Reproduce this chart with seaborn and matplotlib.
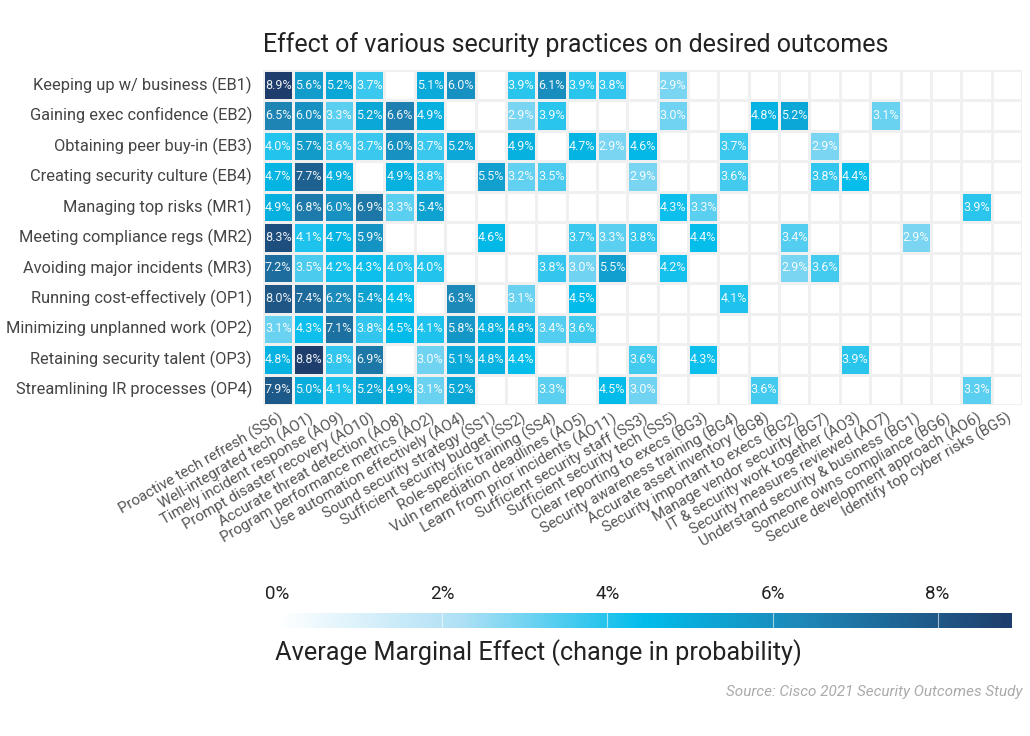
import numpy as np
import pandas as pd
import matplotlib
matplotlib.use("Agg")
import matplotlib.pyplot as plt
import seaborn as sns
from matplotlib.colors import LinearSegmentedColormap

outcomes = [
    "Keeping up w/ business (EB1)",
    "Gaining exec confidence (EB2)",
    "Obtaining peer buy-in (EB3)",
    "Creating security culture (EB4)",
    "Managing top risks (MR1)",
    "Meeting compliance regs (MR2)",
    "Avoiding major incidents (MR3)",
    "Running cost-effectively (OP1)",
    "Minimizing unplanned work (OP2)",
    "Retaining security talent (OP3)",
    "Streamlining IR processes (OP4)",
]

practices = [
    "Proactive tech refresh (SS6)",
    "Well-integrated tech (AO1)",
    "Timely incident response (AO9)",
    "Prompt disaster recovery (AO10)",
    "Accurate threat detection (AO8)",
    "Program performance metrics (AO2)",
    "Use automation effectively (AO4)",
    "Sound security strategy (SS1)",
    "Sufficient security budget (SS2)",
    "Role-specific training (SS4)",
    "Vuln remediation deadlines (AO5)",
    "Learn from prior incidents (AO11)",
    "Sufficient security staff (SS3)",
    "Sufficient security tech (SS5)",
    "Clear reporting to execs (BG3)",
    "Security awareness training (BG4)",
    "Accurate asset inventory (BG8)",
    "Security important to execs (BG2)",
    "Manage vendor security (BG7)",
    "IT & security work together (AO3)",
    "Security measures reviewed (AO7)",
    "Understand security & business (BG1)",
    "Someone owns compliance (BG6)",
    "Secure development approach (AO6)",
    "Identify top cyber risks (BG5)",
]

n = np.nan
# values in percent, one list per outcome (row), one entry per practice (column)
eb1 = [8.9, 5.6, 5.2, 3.7, n, 5.1, 6.0, n, 3.9, 6.1, 3.9, 3.8, n, 2.9, n, n, n, n, n, n, n, n, n, n, n]
eb2 = [6.5, 6.0, 3.3, 5.2, 6.6, 4.9, n, n, 2.9, 3.9, n, n, n, 3.0, n, n, 4.8, 5.2, n, n, 3.1, n, n, n, n]
eb3 = [4.0, 5.7, 3.6, 3.7, 6.0, 3.7, 5.2, n, 4.9, n, 4.7, 2.9, 4.6, n, n, 3.7, n, n, 2.9, n, n, n, n, n, n]
eb4 = [4.7, 7.7, 4.9, n, 4.9, 3.8, n, 5.5, 3.2, 3.5, n, n, 2.9, n, n, 3.6, n, n, 3.8, 4.4, n, n, n, n, n]
mr1 = [4.9, 6.8, 6.0, 6.9, 3.3, 5.4, n, n, n, n, n, n, n, 4.3, 3.3, n, n, n, n, n, n, n, n, 3.9, n]
mr2 = [8.3, 4.1, 4.7, 5.9, n, n, n, 4.6, n, n, 3.7, 3.3, 3.8, n, 4.4, n, n, 3.4, n, n, n, 2.9, n, n, n]
mr3 = [7.2, 3.5, 4.2, 4.3, 4.0, 4.0, n, n, n, 3.8, 3.0, 5.5, n, 4.2, n, n, n, 2.9, 3.6, n, n, n, n, n, n]
op1 = [8.0, 7.4, 6.2, 5.4, 4.4, n, 6.3, n, 3.1, n, 4.5, n, n, n, n, 4.1, n, n, n, n, n, n, n, n, n]
op2 = [3.1, 4.3, 7.1, 3.8, 4.5, 4.1, 5.8, 4.8, 4.8, 3.4, 3.6, n, n, n, n, n, n, n, n, n, n, n, n, n, n]
op3 = [4.8, 8.8, 3.8, 6.9, n, 3.0, 5.1, 4.8, 4.4, n, n, n, 3.6, n, 4.3, n, n, n, n, 3.9, n, n, n, n, n]
op4 = [7.9, 5.0, 4.1, 5.2, 4.9, 3.1, 5.2, n, n, 3.3, n, 4.5, 3.0, n, n, n, 3.6, n, n, n, n, n, n, 3.3, n]

cbar_ticks = [0, 2, 4, 6, 8]
cbar_ticklabels = ["0%", "2%", "4%", "6%", "8%"]

title = "Effect of various security practices on desired outcomes"
cbar_label = "Average Marginal Effect (change in probability)"
source = "Source: Cisco 2021 Security Outcomes Study"

df = pd.DataFrame([eb1, eb2, eb3, eb4, mr1, mr2, mr3, op1, op2, op3, op4],
                  index=outcomes, columns=practices)
annot = df.map(lambda v: "" if pd.isna(v) else f"{v:.1f}%")

sns.set_theme(style="white")
plt.rcParams["font.family"] = ["Roboto", "DejaVu Sans"]

cmap = LinearSegmentedColormap.from_list(
    "cisco",
    [(0.0, "#ffffff"), (0.25, "#aee0f5"), (0.5, "#00bceb"),
     (0.72, "#1d86b6"), (1.0, "#1e3d6c")])

fig = plt.figure(figsize=(10.3, 7.36), dpi=100)
ax = fig.add_axes([263 / 1030, 1 - 405 / 736, (1022 - 263) / 1030, (405 - 70) / 736])
cax = fig.add_axes([277 / 1030, 1 - 628 / 736, (1012 - 277) / 1030, 15 / 736])

grid_color = "#f0f0f0"
# background grid of empty cells
sns.heatmap(df.isna().astype(float).where(df.isna()), ax=ax,
            cmap=LinearSegmentedColormap.from_list("w", ["#ffffff", "#ffffff"]),
            cbar=False, linewidths=1.8, linecolor=grid_color)
sns.heatmap(df, ax=ax, cmap=cmap, vmin=0, vmax=8.9, annot=annot, fmt="",
            annot_kws={"fontsize": 9, "color": "white", "alpha": 0.92},
            linewidths=1.8, linecolor=grid_color,
            cbar_ax=cax, cbar_kws={"orientation": "horizontal"})

ax.set_xlabel("")
ax.set_ylabel("")
ax.tick_params(axis="y", length=0, pad=8)
ax.tick_params(axis="x", length=0, pad=4)
ax.set_yticklabels(outcomes, rotation=0, fontsize=11.8, color="#444444")
ax.set_xticklabels(practices, rotation=30, ha="right", rotation_mode="anchor",
                   fontsize=10.8, color="#555555")
for s in ax.spines.values():
    s.set_visible(False)

ax.set_title(title, loc="left", fontsize=18, color="#222222", pad=13)

cb = ax.collections[-1].colorbar
cb.outline.set_visible(False)
cax.xaxis.set_ticks_position("top")
cax.set_xticks(cbar_ticks)
cax.set_xticklabels(cbar_ticklabels, fontsize=13.5, color="#222222")
cax.tick_params(axis="x", length=0, pad=7)
for t in cbar_ticks[1:]:
    cax.axvline(t, color="white", lw=0.8, alpha=0.6)

fig.text(275 / 1030, 1 - 653 / 736, cbar_label, fontsize=18.2, color="#222222",
         ha="left", va="center")
fig.text(1022 / 1030, 1 - 692 / 736, source, fontsize=11, color="#aaaaaa",
         style="italic", ha="right", va="center")

fig.savefig("out.png", dpi=100)
